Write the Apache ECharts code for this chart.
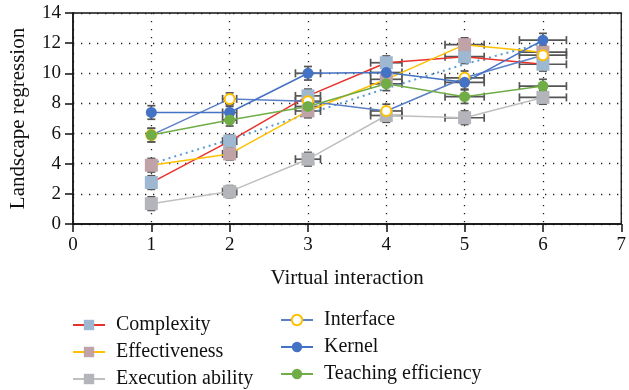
<!DOCTYPE html>
<html>
<head>
<meta charset="utf-8">
<script src="https://cdn.jsdelivr.net/npm/echarts@6/dist/echarts.min.js"></script>
<style>html,body{margin:0;padding:0;background:#fff;}#c{width:629px;height:390px;}</style>
</head>
<body>
<div id="c"></div>
<script>
// ---- data ----
const xValues = [1, 2, 3, 4, 5, 6];
const complexity = [2.75, 5.5, 8.5, 10.7, 11.1, 10.6];
const effectiveness = [3.9, 4.65, 7.5, 9.6, 11.9, 11.4];
const executionAbility = [1.35, 2.15, 4.3, 7.2, 7.05, 8.4];
const interfaceVals = [5.9, 8.3, 8.15, 7.5, 9.7, 11.2];
const kernel = [7.4, 7.4, 10.0, 10.05, 9.4, 12.2];
const teachingEfficiency = [5.9, 6.9, 7.8, 9.3, 8.45, 9.15];
const dottedLine = [4.0, 5.6, 7.3, 9.0, 10.6, 12.0];
const xErrors = [0, 0.09, 0.16, 0.2, 0.25, 0.3];
const yErrors = [0.45, 0.4, 0.45, 0.45, 0.45, 0.45];
const xTicks = [0, 1, 2, 3, 4, 5, 6, 7];
const yTicks = [0, 2, 4, 6, 8, 10, 12, 14];

const FONT = 'Liberation Serif';
const chart = echarts.init(document.getElementById('c'));

function pts(arr) { return xValues.map((x, i) => [x, arr[i]]); }

const mainSeries = [
  { name: 'Complexity', vals: complexity, line: '#E8322B', symbol: 'rect', size: 13, fill: '#9DB8D0', border: '#9DB8D0' },
  { name: 'Effectiveness', vals: effectiveness, line: '#FFC000', symbol: 'rect', size: 13, fill: '#BFA3A7', border: '#BFA3A7' },
  { name: 'Execution ability', vals: executionAbility, line: '#BFBFBF', symbol: 'rect', size: 13, fill: '#B4B5BA', border: '#B4B5BA' },
  { name: 'Interface', vals: interfaceVals, line: '#5B7FC8', symbol: 'circle', size: 10, fill: '#ffffff', border: '#FFC000' },
  { name: 'Kernel', vals: kernel, line: '#4472C4', symbol: 'circle', size: 11, fill: '#4472C4', border: '#4472C4' },
  { name: 'Teaching efficiency', vals: teachingEfficiency, line: '#70AD47', symbol: 'circle', size: 11, fill: '#70AD47', border: '#70AD47' }
];

const errData = [];
mainSeries.forEach(s => {
  xValues.forEach((x, i) => errData.push([x, s.vals[i], xErrors[i], yErrors[i]]));
});

const series = [];
series.push({
  type: 'custom',
  name: 'errors',
  z: 1,
  silent: true,
  data: errData,
  encode: { x: 0, y: 1 },
  renderItem: function (params, api) {
    const x = api.value(0), y = api.value(1), xe = api.value(2), ye = api.value(3);
    const style = { stroke: '#555555', lineWidth: 1.7, fill: null };
    const cap = 4;
    const children = [];
    if (xe > 0) {
      const l = api.coord([x - xe, y]), r = api.coord([x + xe, y]);
      children.push({ type: 'line', shape: { x1: l[0], y1: l[1], x2: r[0], y2: r[1] }, style: style });
      children.push({ type: 'line', shape: { x1: l[0], y1: l[1] - cap, x2: l[0], y2: l[1] + cap }, style: style });
      children.push({ type: 'line', shape: { x1: r[0], y1: r[1] - cap, x2: r[0], y2: r[1] + cap }, style: style });
    }
    if (ye > 0) {
      const t = api.coord([x, y + ye]), b = api.coord([x, y - ye]);
      children.push({ type: 'line', shape: { x1: t[0], y1: t[1], x2: b[0], y2: b[1] }, style: style });
      children.push({ type: 'line', shape: { x1: t[0] - cap, y1: t[1], x2: t[0] + cap, y2: t[1] }, style: style });
      children.push({ type: 'line', shape: { x1: b[0] - cap, y1: b[1], x2: b[0] + cap, y2: b[1] }, style: style });
    }
    return { type: 'group', children: children };
  }
});

series.push({
  type: 'line',
  name: 'dotted',
  z: 2,
  data: pts(dottedLine),
  showSymbol: false,
  silent: true,
  lineStyle: { color: '#5B9BD5', width: 2, type: [2, 4] }
});

mainSeries.forEach(s => {
  series.push({
    type: 'line',
    name: s.name,
    z: 3,
    data: pts(s.vals),
    symbol: s.symbol,
    symbolSize: s.size,
    lineStyle: { color: s.line, width: 1.5 },
    itemStyle: { color: s.fill, borderColor: s.border, borderWidth: s.symbol === 'circle' && s.fill === '#ffffff' ? 2 : 0 },
    emphasis: { disabled: true }
  });
});

const legendText = { fontFamily: FONT, fontSize: 20, color: '#111', lineHeight: 20, padding: [0, 0, 0, 6] };

chart.setOption({
  animation: false,
  backgroundColor: '#fff',
  grid: { left: 72, right: 2, top: 13, bottom: 166, show: true, borderColor: '#111', borderWidth: 1.3, backgroundColor: 'transparent' },
  legend: [
    { orient: 'vertical', left: 72, top: 315, padding: 0, height: 120, itemWidth: 32, itemHeight: 13, itemGap: 7,
      data: ['Complexity', 'Effectiveness', 'Execution ability'], textStyle: legendText, selectedMode: false },
    { orient: 'vertical', left: 280, top: 310, padding: 0, height: 120, itemWidth: 32, itemHeight: 13, itemGap: 7,
      data: ['Interface', 'Kernel', 'Teaching efficiency'], textStyle: legendText, selectedMode: false }
  ],
  xAxis: {
    type: 'value', min: xTicks[0], max: xTicks[xTicks.length - 1], interval: 1,
    name: 'Virtual interaction', nameLocation: 'middle', nameGap: 44,
    nameTextStyle: { fontFamily: FONT, fontSize: 21, color: '#111' },
    axisLine: { lineStyle: { color: '#111', width: 1.5 } },
    axisTick: { show: true, length: 8, lineStyle: { color: '#111', width: 1.5 } },
    axisLabel: { fontFamily: FONT, fontSize: 19, color: '#111', margin: 12 },
    splitLine: { show: true, lineStyle: { color: '#222', width: 1.3, type: [1.3, 6.7] } }
  },
  yAxis: {
    type: 'value', min: yTicks[0], max: yTicks[yTicks.length - 1], interval: 2,
    name: 'Landscape regression', nameLocation: 'middle', nameGap: 44,
    nameTextStyle: { fontFamily: FONT, fontSize: 21, color: '#111' },
    axisLine: { show: true, lineStyle: { color: '#111', width: 1.5 } },
    axisTick: { show: true, length: 8, lineStyle: { color: '#111', width: 1.5 } },
    axisLabel: { fontFamily: FONT, fontSize: 19, color: '#111', margin: 12 },
    splitLine: { show: true, lineStyle: { color: '#222', width: 1.3, type: [1.3, 6.7] } }
  },
  series: series
});
</script>
</body>
</html>
